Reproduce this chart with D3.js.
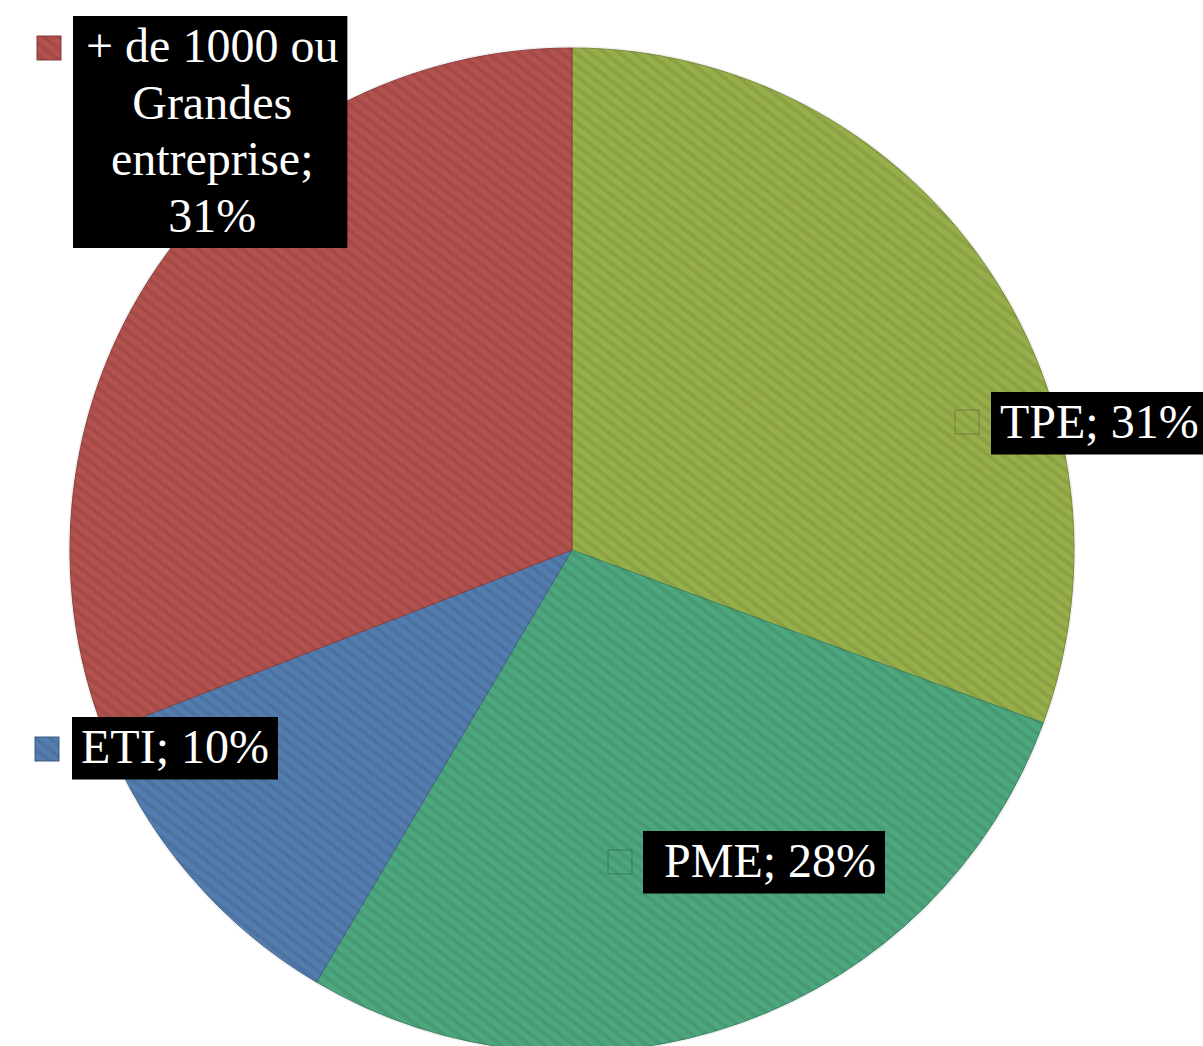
<!DOCTYPE html>
<html>
<head>
<meta charset="utf-8">
<script src="https://cdn.jsdelivr.net/npm/d3@7"></script>
<style>
  body { margin: 0; background: #fff; }
  svg { display: block; }
</style>
</head>
<body>
<div id="chart"></div>
<script>
// slice data, clockwise from 12 o'clock
const categories = ['TPE', 'PME', 'ETI', '+ de 1000 ou Grandes entreprise'];
const values = [30.6, 27.9, 10.6, 30.9];
const pctLabels = ['31%', '28%', '10%', '31%'];
const colors = ['#97AF4A', '#4DA77E', '#537DAF', '#B2514D'];

// label text lines (the big one is wrapped by hand like the original)
const labelLines = [
    ['TPE; 31%'],
    ['PME; 28%'],
    ['ETI; 10%'],
    ['+ de 1000 ou', 'Grandes', 'entreprise;', '31%']
];

// where each data label sits (legend key top-left, box top-left, extra left pad)
const labelPos = [
    { kx: 955, ky: 410, bx: 991, by: 392, extra: 0 },
    { kx: 608, ky: 850, bx: 643, by: 831, extra: 12 },
    { kx: 35, ky: 737, bx: 72, by: 717, extra: 0 },
    { kx: 37, ky: 36, bx: 73, by: 16, extra: 4 }
];

const width = 1203, height = 1046;
const cx = 572, cy = 550, radius = 502;

const svg = d3.select('#chart')
    .append('svg')
    .attr('width', width)
    .attr('height', height);

const defs = svg.append('defs');
const pat = defs.append('pattern')
    .attr('id', 'stripes')
    .attr('patternUnits', 'userSpaceOnUse')
    .attr('width', 9)
    .attr('height', 9)
    .attr('patternTransform', 'rotate(38)');
pat.append('rect')
    .attr('width', 9).attr('height', 4)
    .attr('fill', 'rgba(0,0,0,0.08)');

const pie = d3.pie().sort(null).value(d => d);
const arc = d3.arc().innerRadius(0).outerRadius(radius);
const arcs = pie(values);

const g = svg.append('g').attr('transform', `translate(${cx},${cy})`);

g.append('circle')
    .attr('r', radius + 1)
    .attr('fill', 'none')
    .attr('stroke', 'rgba(0,0,0,0.06)')
    .attr('stroke-width', 2);

g.selectAll('path.slice')
    .data(arcs)
    .enter()
    .append('path')
    .attr('class', 'slice')
    .attr('d', arc)
    .attr('fill', (d, i) => colors[i])
    .attr('stroke', (d, i) => d3.color(colors[i]).darker(0.6))
    .attr('stroke-width', 1);

g.selectAll('path.tex')
    .data(arcs)
    .enter()
    .append('path')
    .attr('class', 'tex')
    .attr('d', arc)
    .attr('fill', 'url(#stripes)');

// data labels
const fontSize = 48;
const lineH = 56.5;
const pad = 9;

labelLines.forEach((lines, i) => {
    const p = labelPos[i];
    const lg = svg.append('g');

    // legend key
    lg.append('rect')
        .attr('x', p.kx).attr('y', p.ky)
        .attr('width', 24).attr('height', 24)
        .attr('fill', colors[i])
        .attr('stroke', d3.color(colors[i]).darker(0.8))
        .attr('stroke-width', 1);
    lg.append('rect')
        .attr('x', p.kx).attr('y', p.ky)
        .attr('width', 24).attr('height', 24)
        .attr('fill', 'url(#stripes)');

    const box = lg.append('rect')
        .attr('x', p.bx).attr('y', p.by)
        .attr('fill', '#000');

    const txt = lg.append('text')
        .attr('font-family', '"Liberation Serif", "DejaVu Serif", serif')
        .attr('font-size', fontSize)
        .attr('fill', '#fff')
        .attr('text-anchor', 'middle');

    lines.forEach((l, j) => {
        txt.append('tspan')
            .attr('x', 0)
            .attr('y', j * lineH)
            .text(l);
    });

    const bb = txt.node().getBBox();
    const bw = bb.width + pad * 2 + p.extra;
    const bh = lines.length * lineH + 6;
    box.attr('width', bw).attr('height', bh);
    txt.attr('transform', `translate(${p.bx + p.extra + (bw - p.extra) / 2},${p.by + 46})`);
});
</script>
</body>
</html>
